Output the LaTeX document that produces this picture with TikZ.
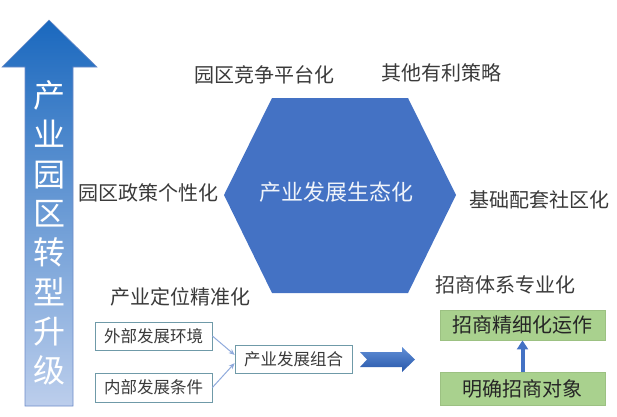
\documentclass[tikz,border=0pt]{standalone}
\usepackage{fontspec}
\setmainfont{Noto Sans CJK SC}
\usetikzlibrary{arrows.meta}
\definecolor{hexblue}{HTML}{4472C4}
\definecolor{labgray}{HTML}{3A3A3A}
\definecolor{boxline}{HTML}{6F9AA8}
\definecolor{greenfill}{HTML}{A9D18E}
\definecolor{greenline}{HTML}{9CC182}
\definecolor{thinarrow}{HTML}{8FAADC}
\tikzset{
  label text/.style = {text = labgray, font = \fontsize{20}{24}\selectfont, inner sep = 0pt},
  small box/.style = {draw = boxline, fill = white, line width = .8pt, minimum width = 117pt, minimum height = 28pt, inner sep = 0pt, text = labgray, font = \fontsize{16.5}{20}\selectfont},
  green box/.style = {draw = greenline, fill = greenfill, line width = .8pt, minimum width = 165pt, inner sep = 0pt, text = black!85, font = \fontsize{20}{24}\selectfont}
}
\begin{document}
\begin{tikzpicture}[x = 1pt, y = -1pt]
    \useasboundingbox (0,0) rectangle (617,416);
    % big arrow on the left
    \shade[top color = {rgb,255:red,26;green,104;blue,190}, bottom color = {rgb,255:red,188;green,206;blue,236}, draw = {rgb,255:red,110;green,140;blue,200}, line width = .6pt]
        (25,406) -- (25,67) -- (2,67) -- (49,20) -- (97,67) -- (73,67) -- (73,406) -- cycle;
    \node (up) at (49,233) [text = white, align = center, inner sep = 0pt, font = \fontsize{32}{39.3}\selectfont] {产\\业\\园\\区\\转\\型\\升\\级};
    % hexagon
    \fill[hexblue] (272,98) -- (408,98) -- (456,195) -- (408,293) -- (272,293) -- (224,195) -- cycle;
    \node (core) at (336,192) [text = white!92!hexblue, inner sep = 0pt, font = \fontsize{22}{26}\selectfont] {产业发展生态化};
	\node (A) at (264,75) [label text] {园区竞争平台化};
	\node (B) at (441,73) [label text] {其他有利策略};
    \node (C) at (148,193) [label text] {园区政策个性化};
	\node (D) at (539,200) [label text] {基础配套社区化};
    \node (E) at (180,297) [label text] {产业定位精准化};
	\node (F) at (505,285) [label text] {招商体系专业化};
    % bottom left boxes
    \node (ext) at (153.5,336) [small box] {外部发展环境};
    \node (int) at (153.5,387.5) [small box, minimum height = 29pt] {内部发展条件};
    \node (combo) at (293.5,359) [small box] {产业发展组合};
    \draw[thinarrow, line width = 1pt, -{Stealth[length = 6pt, width = 5pt]}] (ext.east) -- (combo.176);
    \draw[thinarrow, line width = 1pt, -{Stealth[length = 6pt, width = 5pt]}] (int.east) -- (combo.184);
    \shade[top color = {rgb,255:red,96;green,142;blue,214}, bottom color = {rgb,255:red,40;green,88;blue,170}]
        (360,352) -- (402,352) -- (402,347) -- (415,359.5) -- (402,372) -- (402,367) -- (360,367) -- (367,359.5) -- cycle;
    % green boxes
    \node (fine) at (522.5,325) [green box, minimum height = 30pt] {招商精细化运作};
    \node (goal) at (522.5,388.5) [green box, minimum height = 33pt] {明确招商对象};
    \draw[hexblue, line width = 4pt, -{Triangle[length = 9pt, width = 11pt]}] (goal.north) -- (fine.south);
\end{tikzpicture}
\end{document}
